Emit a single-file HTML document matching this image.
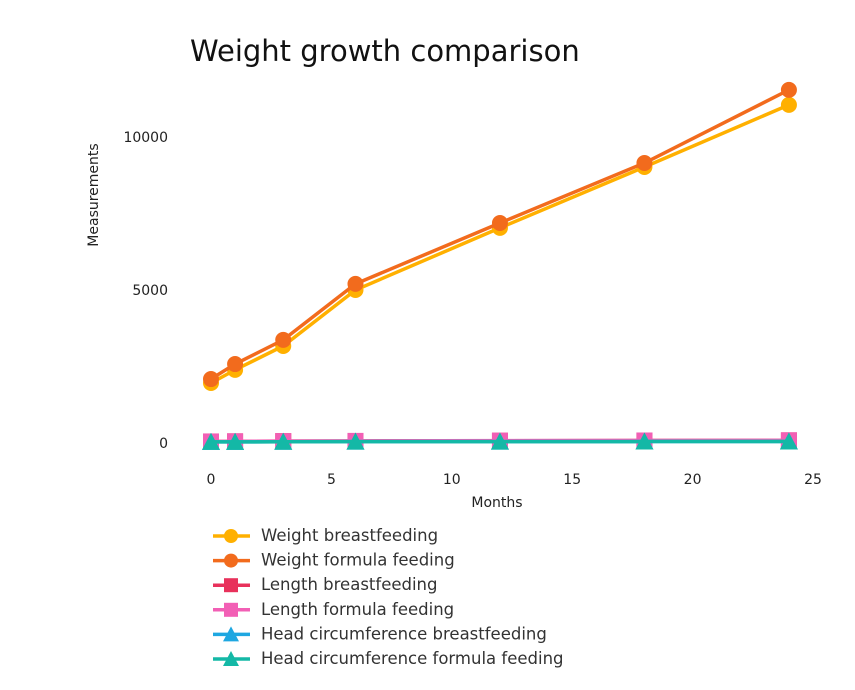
<!DOCTYPE html>
<html><head><meta charset="utf-8"><style>
body{margin:0;background:#fff;font-family:"Liberation Sans","DejaVu Sans",sans-serif}
svg text{font-family:"DejaVu Sans","Liberation Sans",sans-serif}
</style></head><body>
<svg id="chart" width="855" height="685">
<text x="190" y="61" font-size="29" fill="#111">Weight growth comparison</text>
<g id="axes"></g><g id="series"></g><g id="legend"></g>
</svg>
<script>
const months=[0,1,3,6,12,18,24];
const weightBF=[1960,2390,3170,5000,7030,9020,11050];
const weightFF=[2090,2580,3370,5200,7190,9150,11540];
const lengthBF=[50,55,61,67,75,82,87];
const lengthFF=[50,55,61,67,76,82,88];
const headBF=[35,37,40,43,46,47,48];
const headFF=[35,37,40,43,46,47,48];
const xTicks=[0,5,10,15,20,25];
const yTicks=[0,5000,10000];
const names=["Weight breastfeeding","Weight formula feeding","Length breastfeeding","Length formula feeding","Head circumference breastfeeding","Head circumference formula feeding"];
const colors=["#FFB000","#F26B1D","#E8315B","#F25FB5","#1EA7E1","#14B8A6"];
const markers=["circle","circle","square","square","triangle","triangle"];
const series=[weightBF,weightFF,lengthBF,lengthFF,headBF,headFF];
const NS="http://www.w3.org/2000/svg";
const X=v=>211+v*24.08, Y=v=>443-v*0.0306;
function mk(t,a,p){const e=document.createElementNS(NS,t);for(const k in a)e.setAttribute(k,a[k]);p.appendChild(e);return e;}
const ax=document.getElementById('axes');
xTicks.forEach(t=>{const e=mk('text',{x:X(t),y:484,'font-size':14,'text-anchor':'middle',fill:'#222'},ax);e.textContent=t;

});
yTicks.forEach(t=>{const e=mk('text',{x:168,y:Y(t)+5,'font-size':14,'text-anchor':'end',fill:'#222'},ax);e.textContent=t;

});
let e=mk('text',{x:497,y:507,'font-size':14,'text-anchor':'middle',fill:'#222'},ax);e.textContent='Months';


e=mk('text',{x:0,y:0,'font-size':14,'text-anchor':'middle',fill:'#222',transform:'translate(98,195) rotate(-90)'},ax);e.textContent='Measurements';


function marker(g,type,x,y,c,s){
 if(type==='circle')return mk('circle',{cx:x,cy:y,r:s,fill:c},g);
 if(type==='square')return mk('rect',{x:x-s,y:y-s,width:2*s,height:2*s,fill:c},g);
 return mk('polygon',{points:`${x},${y-s-1} ${x-s-1},${y+s} ${x+s+1},${y+s}`,fill:c},g);
}
const sg=document.getElementById('series');
series.forEach((d,i)=>{
 const g=mk('g',{},sg);
 
 
 mk('polyline',{points:d.map((v,j)=>X(months[j])+','+Y(v)).join(' '),fill:'none',stroke:colors[i],'stroke-width':3.5},g);
 d.forEach((v,j)=>{const m=marker(g,markers[i],X(months[j]),Y(v),colors[i],8);
 
 });
});
const lg=document.getElementById('legend');
names.forEach((n,i)=>{
 const y=536+i*24.6;
 const g=mk('g',{},lg);
 
 
 mk('line',{x1:213,x2:250,y1:y,y2:y,stroke:colors[i],'stroke-width':3.5},g);
 marker(g,markers[i],231,y,colors[i],7);
 const t=mk('text',{x:261,y:y+5,'font-size':16.5,fill:'#333'},g);t.textContent=n;
});
</script>
</body></html>
